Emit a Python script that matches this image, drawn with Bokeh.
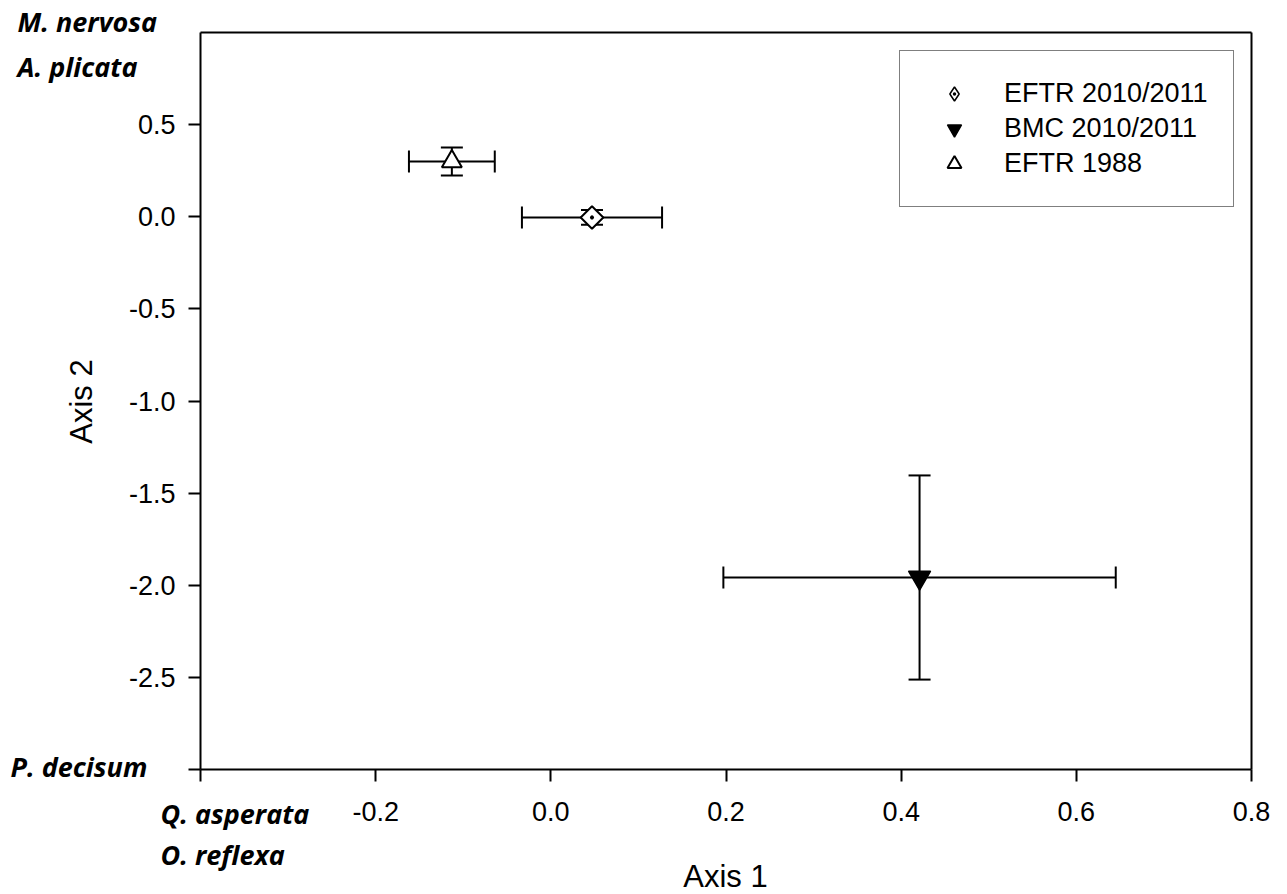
from bokeh.plotting import figure
from bokeh.models import (ColumnDataSource, Whisker, TeeHead, Label, FixedTicker,
                          Legend, LegendItem, Range1d, LinearAxis)
from bokeh.embed import file_html
from bokeh.resources import INLINE

# Ordination group means (axis scores) with standard errors
groups = ["EFTR 2010/2011", "BMC 2010/2011", "EFTR 1988"]
axis1 = [0.047, 0.421, -0.113]
axis1_se = [0.080, 0.224, 0.049]
axis2 = [-0.004, -1.958, 0.300]
axis2_se = [0.040, 0.554, 0.076]

x_ticks = [-0.4, -0.2, 0.0, 0.2, 0.4, 0.6, 0.8]
y_ticks = [-3.0, -2.5, -2.0, -1.5, -1.0, -0.5, 0.0, 0.5]
x_lim = (-0.4, 0.8)
y_lim = (-3.0, 1.0)

# species loading on the ends of the two axes
species = ["M. nervosa", "A. plicata", "P. decisum", "Q. asperata", "O. reflexa"]

W, H = 1287, 894
FONT = "Liberation Sans"
SP_FONT = "Open Sans"

# pixel box of the axes inside the canvas
BOX_L, BOX_R, BOX_T, BOX_B = 200, 1251, 32, 769
sx = (BOX_R - BOX_L) / (x_lim[1] - x_lim[0])
sy = (BOX_B - BOX_T) / (y_lim[1] - y_lim[0])

p = figure(width=W, height=H, output_backend="svg", toolbar_location=None,
           x_range=Range1d(x_lim[0] - BOX_L / sx, x_lim[1] + (W - BOX_R) / sx),
           y_range=Range1d(y_lim[0] - (H - BOX_B) / sy, y_lim[1] + BOX_T / sy),
           min_border=0)
p.title.visible = False
p.grid.visible = False
p.outline_line_color = None
p.background_fill_color = "white"
p.border_fill_color = "white"


def fmt(v):
    return f"{v:.1f}"


def style_axis(ax):
    ax.axis_line_width = 2
    ax.axis_line_color = "black"
    ax.major_tick_line_width = 2
    ax.major_tick_line_color = "black"
    ax.major_tick_out = 12
    ax.major_tick_in = 0
    ax.minor_tick_line_color = None
    ax.major_label_text_font = FONT
    ax.major_label_text_font_size = "27px"
    ax.major_label_text_color = "black"


xa = p.xaxis[0]
style_axis(xa)
xa.fixed_location = y_lim[0]
xa.bounds = x_lim
xa.ticker = FixedTicker(ticks=x_ticks)
xa.major_label_overrides = {t: ("" if t == x_lim[0] else fmt(t)) for t in x_ticks}
xa.major_label_standoff = 20

ya = p.yaxis[0]
style_axis(ya)
ya.fixed_location = x_lim[0]
ya.bounds = y_lim
ya.ticker = FixedTicker(ticks=y_ticks)
ya.major_label_overrides = {t: ("" if t == y_lim[0] else fmt(t)) for t in y_ticks}
ya.major_label_standoff = 13

# closing lines of the box on the top and right
for side, loc, bnd in (("above", y_lim[1], x_lim), ("right", x_lim[1], y_lim)):
    a = LinearAxis(fixed_location=loc, bounds=bnd, ticker=FixedTicker(ticks=[]),
                   axis_line_width=2, axis_line_color="black",
                   major_tick_line_color=None, minor_tick_line_color=None,
                   major_label_text_font_size="0px")
    p.add_layout(a, side)


def canvas_label(text, x, y, font, size, style="normal", align="left", angle=0.0):
    p.add_layout(Label(x=x, y=H - y, x_units="screen", y_units="screen", text=text,
                       text_align=align, text_baseline="alphabetic", angle=angle,
                       text_font=font, text_font_size=size, text_font_style=style,
                       text_color="black"))


# axis titles
canvas_label("Axis 1", 725, 876, FONT, "31px", align="center")
canvas_label("Axis 2", 81, 401, FONT, "31px", align="center", angle=1.5708)

# species names at the axis ends
sp_pos = [(17, 21), (17, 66), (10, 766), (160, 813), (160, 854)]
for name, (lx, ly) in zip(species, sp_pos):
    canvas_label(name, lx, ly, SP_FONT, "27px", style="bold italic")

src = ColumnDataSource(dict(
    x=axis1, y=axis2,
    xl=[a - s for a, s in zip(axis1, axis1_se)],
    xu=[a + s for a, s in zip(axis1, axis1_se)],
    yl=[a - s for a, s in zip(axis2, axis2_se)],
    yu=[a + s for a, s in zip(axis2, axis2_se)],
))

# standard-error bars in both directions
for dim, base, lo, hi in (("width", "y", "xl", "xu"), ("height", "x", "yl", "yu")):
    p.add_layout(Whisker(source=src, base=base, lower=lo, upper=hi, dimension=dim,
                         level="underlay", line_color="black", line_width=2,
                         lower_head=TeeHead(size=22, line_color="black", line_width=2),
                         upper_head=TeeHead(size=22, line_color="black", line_width=2)))

# diamond key glyph for the legend, hidden under the rotated square
r_eftr_key = p.scatter(x=[axis1[0]], y=[axis2[0]], marker="diamond_dot", size=14,
                       fill_color="white", line_color="black", line_width=1.5)
r_eftr = p.scatter(x=[axis1[0]], y=[axis2[0]], marker="square_dot", angle=0.7854,
                   size=16, fill_color="white", line_color="black", line_width=2)
r_bmc = p.scatter(x=[axis1[1]], y=[axis2[1]], marker="inverted_triangle", size=22,
                  fill_color="black", line_color="black", line_width=1.5)
r_old = p.scatter(x=[axis1[2]], y=[axis2[2]], marker="triangle", size=20,
                  fill_color="white", line_color="black", line_width=2)

legend = Legend(items=[LegendItem(label=groups[0], renderers=[r_eftr_key]),
                       LegendItem(label=groups[1], renderers=[r_bmc]),
                       LegendItem(label=groups[2], renderers=[r_old])],
                location=(899, H - 207), orientation="vertical",
                label_text_font=FONT, label_text_font_size="27px",
                label_text_color="black",
                label_height=35, glyph_width=58, glyph_height=35, spacing=0,
                padding=25, margin=0, label_standoff=21,
                border_line_color="black", border_line_width=1.5,
                background_fill_alpha=1.0, background_fill_color="white")
p.add_layout(legend)

open("out.html", "w").write(file_html(p, INLINE))
